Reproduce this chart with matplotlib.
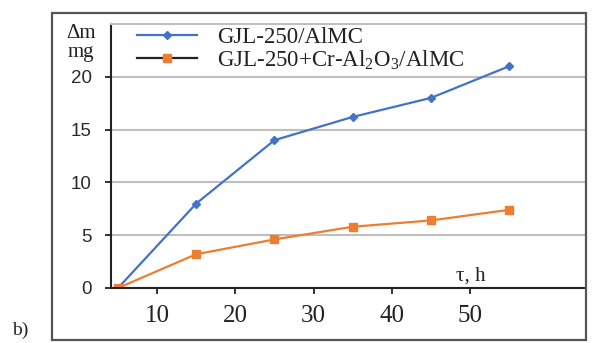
import matplotlib
matplotlib.use("Agg")
import matplotlib.pyplot as plt
from matplotlib.lines import Line2D
from matplotlib.patches import Rectangle

plt.rcParams['mathtext.fontset'] = 'custom'
plt.rcParams['mathtext.rm'] = 'Liberation Serif'

# data
tau = [5, 15, 25, 35, 45, 55]
gjl = [0, 8, 14, 16.2, 18, 21]
gjl_cr = [0, 3.2, 4.6, 5.8, 6.4, 7.4]
xticks = [10, 20, 30, 40, 50]
yticks = [0, 5, 10, 15, 20]
labels = ['GJL-250/AlMC', r'GJL-250+Cr-Al$_\mathrm{2}$O$_\mathrm{3}$/AlMC']

blue = '#4472C4'
orange = '#ED7D31'
serif = 'Liberation Serif'
ink = '#222222'

W, H = 593, 343
fig = plt.figure(figsize=(W / 100, H / 100), dpi=100)

# outer frame
fig.patches.append(Rectangle((52 / W, 1 - 340 / H), (586 - 52) / W, (340 - 13) / H,
                             transform=fig.transFigure, fill=False,
                             edgecolor='#555555', lw=1.6))

ax = fig.add_axes([111 / W, 1 - 288 / H, (585 - 111) / W, (288 - 24) / H])
ax.plot(tau, gjl, color=blue, lw=1.6, marker='D', ms=4)
ax.plot(tau, gjl_cr, color=orange, lw=1.6, marker='s', ms=6)

ax.set_xlim(4.1, 64.7)
ax.set_ylim(0, 25)
ax.set_xticks(xticks)
ax.set_yticks(yticks)
ax.grid(axis='y', color='#bfbfbf', lw=1.5)
ax.set_axisbelow(True)

for s in ['left', 'bottom']:
    ax.spines[s].set_color(ink)
    ax.spines[s].set_linewidth(1.5)
ax.spines['top'].set_color('#bfbfbf')
ax.spines['top'].set_linewidth(1.5)
ax.spines['right'].set_visible(False)

ax.tick_params(axis='y', length=4, width=1.3, pad=10, labelsize=13.5,
               labelcolor='#2a2a2a', color=ink)
ax.tick_params(axis='x', length=4, width=1.3, pad=8, labelsize=18,
               labelcolor=ink, color=ink)
for t in ax.get_xticklabels():
    t.set_family(serif)
for t in ax.get_yticklabels():
    t.set_family('Liberation Sans')

handles = [Line2D([], [], color=blue, lw=1.6, marker='D', ms=4),
           Line2D([], [], color=ink, lw=1.6, marker='s', ms=6,
                  markerfacecolor=orange, markeredgecolor=orange)]
leg = fig.legend(handles, labels, loc='upper left', bbox_to_anchor=(137 / W, 1 - 27 / H),
                 frameon=False, prop={'family': serif, 'size': 16.5},
                 handlelength=2.6, handletextpad=0.9, labelspacing=0.0,
                 borderpad=0, borderaxespad=0)
for t in leg.get_texts():
    t.set_color(ink)

fig.text(81 / W, 1 - 34 / H, 'Δm', family=serif, fontsize=15, ha='center', va='center',
         color=ink)
fig.text(81 / W, 1 - 52 / H, 'mg', family=serif, fontsize=15, ha='center', va='center',
         color=ink)
fig.text(471 / W, 1 - 276 / H, 'τ, h', family=serif, fontsize=15, ha='center', va='center',
         color=ink)
fig.text(20 / W, 1 - 330 / H, 'b)', family=serif, fontsize=14, ha='center', va='center',
         color=ink)

fig.savefig('out.png', dpi=100)
